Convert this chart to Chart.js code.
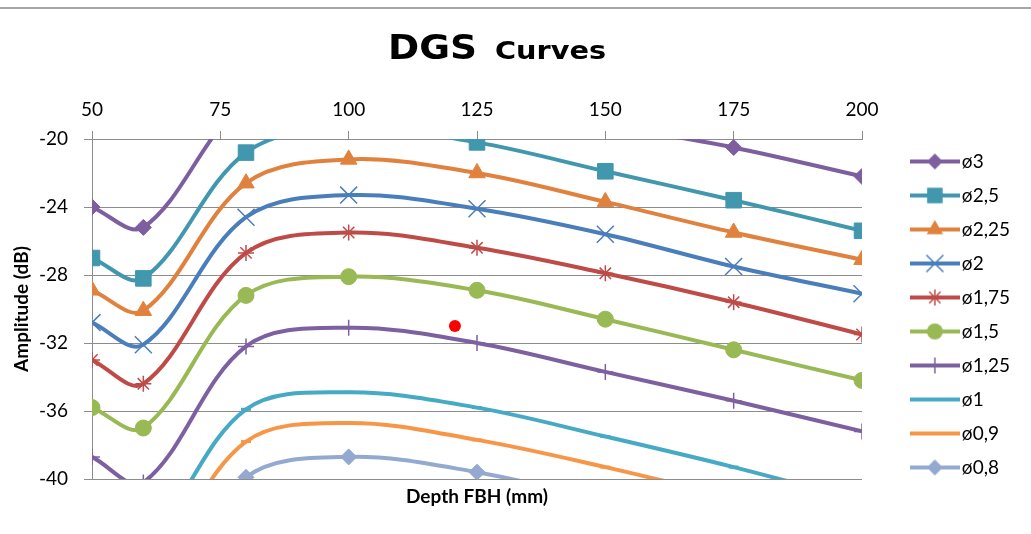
<!DOCTYPE html>
<html lang="en">
<head>
<meta charset="UTF-8">
<title>DGS Curves</title>
<script src="https://cdn.jsdelivr.net/npm/chart.js@4/dist/chart.umd.min.js"></script>
<style>
  html, body { margin: 0; padding: 0; background: #fff; }
  .box { width: 1031px; height: 534px; }
</style>
</head>
<body>
<div class="box"><canvas id="chartDgs"></canvas></div>

<script>
// profondeurs (mm) des points mesurés
var depths = [50, 60, 80, 100, 125, 150, 175, 200];

// amplitude (dB) par diamètre de trou à fond plat
var d3   = [-24.0, -25.2, -17.8, -16.3, -17.1, -19.1, -20.5, -22.2];
var d25  = [-27.0, -28.2, -20.8, -19.3, -20.2, -21.9, -23.6, -25.4];
var d225 = [-28.9, -30.1, -22.6, -21.2, -22.0, -23.7, -25.5, -27.1];
var d2   = [-30.8, -32.1, -24.6, -23.3, -24.1, -25.6, -27.5, -29.1];
var d175 = [-33.0, -34.4, -26.7, -25.5, -26.4, -27.9, -29.6, -31.5];
var d15  = [-35.8, -37.0, -29.2, -28.1, -28.9, -30.6, -32.4, -34.2];
var d125 = [-38.7, -40.2, -32.2, -31.1, -32.0, -33.7, -35.4, -37.2];
var d1   = [-42.4, -43.7, -35.9, -34.9, -35.8, -37.5, -39.3, -41.3];
var d09  = [-44.2, -45.5, -37.8, -36.7, -37.7, -39.3, -41.1, -42.9];
var d08  = [-46.5, -47.8, -39.9, -38.7, -39.6, -41.3, -43.1, -44.9];

var labels = ['ø3', 'ø2,5', 'ø2,25', 'ø2', 'ø1,75', 'ø1,5', 'ø1,25', 'ø1', 'ø0,9', 'ø0,8'];
var series = [d3, d25, d225, d2, d175, d15, d125, d1, d09, d08];

// point isolé (rouge)
var markDepth = [120.7];
var markAmp = [-31.0];

var xTicks = { min: 50, max: 200, step: 25 };
var yTicks = { min: -40, max: -20, step: 4 };

// styles
var couleurs = ['#7D5FA0', '#4198AE', '#E0823D', '#4A7EBB', '#BE4B48', '#98B954', '#7D60A0', '#46AAC5', '#F79646', '#94A9D0'];
var formes = ['rectRot', 'rect', 'triangle', 'crossRot', 'star', 'circle', 'cross', 'line', 'line', 'rectRot'];
var tailles = [8, 11, 9.5, 12, 8, 8, 8, 5, 5, 8];
var grisGrille = '#8C8C8C';

function dessinerMarque(c, forme, x, y, r, couleur) {
    c.fillStyle = couleur;
    c.strokeStyle = couleur;
    c.lineWidth = 1.5;
    c.beginPath();
    if (forme == 'rectRot') {
        c.moveTo(x, y - r); c.lineTo(x + r, y); c.lineTo(x, y + r); c.lineTo(x - r, y);
        c.closePath(); c.fill();
    } else if (forme == 'rect') {
        var s = r * Math.SQRT1_2;
        c.fillRect(x - s, y - s, 2 * s, 2 * s);
    } else if (forme == 'triangle') {
        c.moveTo(x, y - r); c.lineTo(x + 0.866 * r, y + 0.5 * r); c.lineTo(x - 0.866 * r, y + 0.5 * r);
        c.closePath(); c.fill();
    } else if (forme == 'circle') {
        c.arc(x, y, r, 0, Math.PI * 2); c.fill();
    } else {
        var k = r * Math.SQRT1_2;
        if (forme == 'crossRot' || forme == 'star') {
            c.moveTo(x - k, y - k); c.lineTo(x + k, y + k);
            c.moveTo(x - k, y + k); c.lineTo(x + k, y - k);
        }
        if (forme == 'cross' || forme == 'star') {
            c.moveTo(x, y - r); c.lineTo(x, y + r);
            c.moveTo(x - r, y); c.lineTo(x + r, y);
        }
        c.stroke();
    }
}

// petites images pour la légende : trait + marqueur
function imageLegende(i) {
    var cv = document.createElement('canvas');
    cv.width = 50; cv.height = 26;
    var c = cv.getContext('2d');
    c.strokeStyle = couleurs[i];
    c.lineWidth = 4;
    c.beginPath(); c.moveTo(0, 13); c.lineTo(50, 13); c.stroke();
    if (formes[i] != 'line') dessinerMarque(c, formes[i], 25, 13, tailles[i], couleurs[i]);
    return cv;
}

var datasets = [];
for (var i = 0; i < series.length; i++) {
    var pts = [];
    for (var j = 0; j < depths.length; j++) pts.push({ x: depths[j], y: series[i][j] });
    var trait = (formes[i] == 'crossRot' || formes[i] == 'star' || formes[i] == 'cross');
    datasets.push({
        label: labels[i],
        data: pts,
        borderColor: couleurs[i],
        backgroundColor: couleurs[i],
        borderWidth: 4,
        tension: 0.35,
        fill: false,
        pointStyle: formes[i],
        pointRadius: tailles[i],
        pointHoverRadius: tailles[i],
        pointBorderWidth: trait ? 1.5 : (formes[i] == 'line' ? 3 : 1),
        legendImg: imageLegende(i)
    });
}
var ptsRouge = [];
for (var m = 0; m < markDepth.length; m++) ptsRouge.push({ x: markDepth[m], y: markAmp[m] });
datasets.push({
    label: 'mesure',
    data: ptsRouge,
    showLine: false,
    borderColor: '#FF0000',
    backgroundColor: '#FF0000',
    pointStyle: 'circle',
    pointRadius: 6,
    pointBorderWidth: 0,
    legendSkip: true
});

// titre + cadre
var decor = {
    id: 'decor',
    beforeDraw: function (chart) {
        var c = chart.ctx;
        c.save();
        c.fillStyle = '#fff';
        c.fillRect(0, 0, chart.width, chart.height);
        c.restore();
    },
    afterDraw: function (chart) {
        var c = chart.ctx;
        c.save();
        c.fillStyle = '#A6A6A6';
        c.fillRect(0, 7, chart.width, 2);

        c.fillStyle = '#000';
        c.textBaseline = 'alphabetic';
        c.font = 'bold 33px "DejaVu Sans"';
        var w1 = c.measureText('DGS').width;
        c.save(); c.translate(388, 59); c.scale(89 / w1, 1); c.fillText('DGS', 0, 0); c.restore();
        c.font = 'bold 24px "DejaVu Sans"';
        var w2 = c.measureText('Curves').width;
        c.save(); c.translate(495, 59); c.scale(111 / w2, 1); c.fillText('Curves', 0, 0); c.restore();
        c.restore();
    }
};

var ctxDgs = document.getElementById('chartDgs').getContext('2d');
var graphe = new Chart(ctxDgs, {
    type: 'line',
    data: { datasets: datasets },
    plugins: [decor],
    options: {
        responsive: true,
        maintainAspectRatio: false,
        animation: false,
        layout: { padding: { top: 95, right: 11, bottom: 0, left: 0 } },
        plugins: {
            title: { display: false },
            tooltip: { enabled: false },
            legend: {
                position: 'right',
                labels: {
                    usePointStyle: true,
                    pointStyleWidth: 35,
                    padding: 15,
                    color: '#000',
                    font: { family: 'Lato', size: 19 },
                    generateLabels: function (chart) {
                        var out = [];
                        chart.data.datasets.forEach(function (ds, k) {
                            if (ds.legendSkip) return;
                            out.push({
                                text: ds.label,
                                pointStyle: ds.legendImg,
                                fillStyle: ds.borderColor,
                                strokeStyle: ds.borderColor,
                                lineWidth: 0,
                                hidden: false,
                                datasetIndex: k
                            });
                        });
                        return out;
                    }
                }
            }
        },
        scales: {
            x: {
                type: 'linear',
                position: 'top',
                min: xTicks.min,
                max: xTicks.max,
                ticks: { stepSize: xTicks.step, color: '#000', padding: 10, font: { family: 'Lato', size: 19 } },
                grid: { drawOnChartArea: false, tickLength: 8, color: grisGrille },
                border: { color: grisGrille },
                afterFit: function (s) { s.height = 44; }
            },
            x2: {
                type: 'linear',
                position: 'bottom',
                min: xTicks.min,
                max: xTicks.max,
                ticks: { display: false },
                grid: { display: false },
                border: { display: false },
                title: {
                    display: true,
                    text: 'Depth FBH (mm)',
                    color: '#000',
                    font: { family: 'Lato', size: 19, weight: 'bold' },
                    padding: { top: 0, bottom: 26 }
                },
                afterFit: function (s) { s.height = 55; }
            },
            y: {
                type: 'linear',
                position: 'left',
                min: yTicks.min,
                max: yTicks.max,
                ticks: { stepSize: yTicks.step, color: '#000', padding: 16, font: { family: 'Lato', size: 19 } },
                grid: { tickLength: 8, color: grisGrille },
                border: { color: grisGrille },
                title: {
                    display: true,
                    text: 'Amplitude (dB)',
                    color: '#000',
                    font: { family: 'Lato', size: 19, weight: 'bold' },
                    padding: { top: 10, bottom: 0 }
                },
                afterFit: function (s) { s.width = 92; }
            },
            yR: {
                type: 'linear',
                position: 'right',
                min: yTicks.min,
                max: yTicks.max,
                ticks: { display: false },
                grid: { display: false },
                border: { display: false },
                afterFit: function (s) {
                    var lw = s.chart.legend ? s.chart.legend.width : 0;
                    s.width = Math.max(0, 1031 - 11 - lw - 862);
                }
            }
        }
    }
});
</script>
</body>
</html>
